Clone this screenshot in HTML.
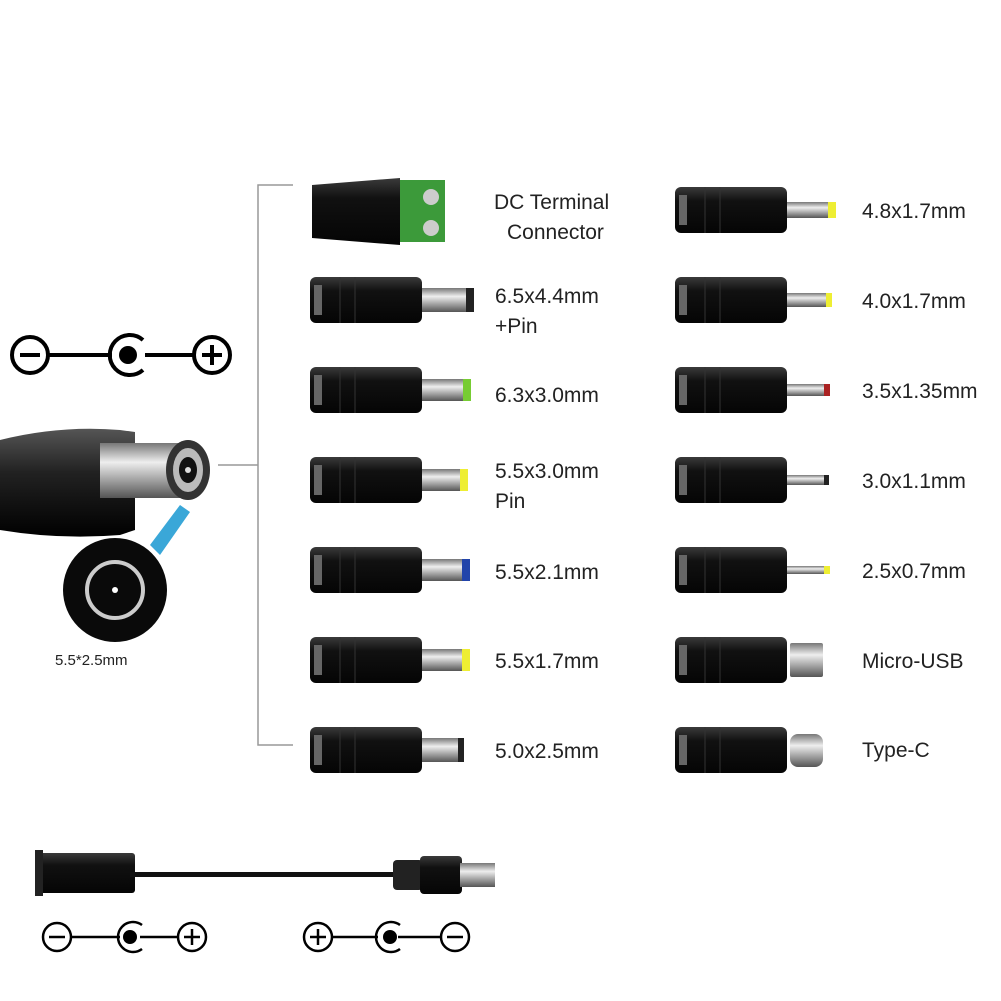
<!DOCTYPE html>
<html><head><style>body{margin:0;background:#fff}svg{display:block}text{font-family:"Liberation Sans",sans-serif;fill:#222}</style></head>
<body>
<svg width="1001" height="1001" viewBox="0 0 1001 1001" xmlns="http://www.w3.org/2000/svg">
<defs>
<linearGradient id="body" x1="0" y1="0" x2="0" y2="1"><stop offset="0" stop-color="#3a3a3a"/><stop offset="0.3" stop-color="#111"/><stop offset="1" stop-color="#050505"/></linearGradient>
<linearGradient id="metal" x1="0" y1="0" x2="0" y2="1"><stop offset="0" stop-color="#777"/><stop offset="0.35" stop-color="#eee"/><stop offset="1" stop-color="#555"/></linearGradient>
<linearGradient id="cab" x1="0" y1="0" x2="0" y2="1"><stop offset="0" stop-color="#555"/><stop offset="0.4" stop-color="#222"/><stop offset="1" stop-color="#000"/></linearGradient>
<g id="plug"><rect x="0" y="-23" width="112" height="46" rx="6" fill="url(#body)"/><rect x="4" y="-15" width="8" height="30" fill="#666"/><line x1="30" y1="-23" x2="30" y2="23" stroke="#333"/><line x1="45" y1="-23" x2="45" y2="23" stroke="#333"/></g>
</defs>
<!-- bracket -->
<path d="M293 185H258V745H293M218 465H258" fill="none" stroke="#999" stroke-width="1.5"/>
<!-- top polarity -->
<g stroke="#000" stroke-width="4" fill="none"><circle cx="30" cy="355" r="18"/><line x1="20" y1="355" x2="40" y2="355"/><line x1="48" y1="355" x2="112" y2="355"/><path d="M143 340A20 20 0 1 0 143 370"/><line x1="145" y1="355" x2="195" y2="355"/><circle cx="212" cy="355" r="18"/><line x1="202" y1="355" x2="222" y2="355"/><line x1="212" y1="345" x2="212" y2="365"/></g>
<circle cx="128" cy="355" r="9" fill="#000"/>
<!-- big connector -->
<path d="M0 440Q60 425 120 430L135 432V530L120 535Q60 540 0 530Z" fill="url(#cab)"/>
<rect x="100" y="443" width="85" height="55" fill="url(#metal)"/>
<ellipse cx="188" cy="470" rx="22" ry="30" fill="#333"/><ellipse cx="188" cy="470" rx="15" ry="22" fill="#bbb"/><ellipse cx="188" cy="470" rx="9" ry="13" fill="#111"/><circle cx="188" cy="470" r="3" fill="#ddd"/>
<polygon points="150,545 180,505 190,512 160,555" fill="#3aa7d8"/>
<circle cx="115" cy="590" r="52" fill="#0a0a0a"/><circle cx="115" cy="590" r="28" fill="none" stroke="#ccc" stroke-width="4"/><circle cx="115" cy="590" r="3" fill="#fff"/>
<text x="55" y="665" font-size="15">5.5*2.5mm</text>
<!-- DC terminal -->
<path d="M312 185L400 178V245L312 238Z" fill="url(#body)"/>
<rect x="400" y="180" width="45" height="62" fill="#3c9a3a"/><circle cx="431" cy="197" r="8" fill="#ccc"/><circle cx="431" cy="228" r="8" fill="#ccc"/>
<!-- left column plugs -->
<g>
<use href="#plug" x="310" y="300"/><rect x="422" y="288" width="48" height="24" fill="url(#metal)"/><rect x="466" y="288" width="8" height="24" fill="#222"/>
<use href="#plug" x="310" y="390"/><rect x="422" y="379" width="43" height="22" fill="url(#metal)"/><rect x="463" y="379" width="8" height="22" fill="#7c3"/>
<use href="#plug" x="310" y="480"/><rect x="422" y="469" width="40" height="22" fill="url(#metal)"/><rect x="460" y="469" width="8" height="22" fill="#ee3"/>
<use href="#plug" x="310" y="570"/><rect x="422" y="559" width="42" height="22" fill="url(#metal)"/><rect x="462" y="559" width="8" height="22" fill="#24a"/>
<use href="#plug" x="310" y="660"/><rect x="422" y="649" width="42" height="22" fill="url(#metal)"/><rect x="462" y="649" width="8" height="22" fill="#ee3"/>
<use href="#plug" x="310" y="750"/><rect x="422" y="738" width="38" height="24" fill="url(#metal)"/><rect x="458" y="738" width="6" height="24" fill="#222"/>
</g>
<!-- right column -->
<g>
<use href="#plug" x="675" y="210"/><rect x="787" y="202" width="42" height="16" fill="url(#metal)"/><rect x="828" y="202" width="8" height="16" fill="#ee3"/>
<use href="#plug" x="675" y="300"/><rect x="787" y="293" width="40" height="14" fill="url(#metal)"/><rect x="826" y="293" width="6" height="14" fill="#ee3"/>
<use href="#plug" x="675" y="390"/><rect x="787" y="384" width="38" height="12" fill="url(#metal)"/><rect x="824" y="384" width="6" height="12" fill="#a22"/>
<use href="#plug" x="675" y="480"/><rect x="787" y="475" width="38" height="10" fill="url(#metal)"/><rect x="824" y="475" width="5" height="10" fill="#222"/>
<use href="#plug" x="675" y="570"/><rect x="787" y="566" width="38" height="8" fill="url(#metal)"/><rect x="824" y="566" width="6" height="8" fill="#ee3"/>
<use href="#plug" x="675" y="660"/><rect x="790" y="643" width="33" height="34" rx="2" fill="url(#metal)"/>
<use href="#plug" x="675" y="750"/><rect x="790" y="734" width="33" height="33" rx="8" fill="url(#metal)"/>
</g>
<!-- labels -->
<g font-size="21">
<text x="494" y="209">DC Terminal</text><text x="507" y="239">Connector</text>
<text x="495" y="303">6.5x4.4mm</text><text x="495" y="333">+Pin</text>
<text x="495" y="402">6.3x3.0mm</text>
<text x="495" y="478">5.5x3.0mm</text><text x="495" y="508">Pin</text>
<text x="495" y="579">5.5x2.1mm</text>
<text x="495" y="668">5.5x1.7mm</text>
<text x="495" y="758">5.0x2.5mm</text>
<text x="862" y="218">4.8x1.7mm</text>
<text x="862" y="308">4.0x1.7mm</text>
<text x="862" y="398">3.5x1.35mm</text>
<text x="862" y="488">3.0x1.1mm</text>
<text x="862" y="578">2.5x0.7mm</text>
<text x="862" y="668">Micro-USB</text>
<text x="862" y="757">Type-C</text>
</g>
<!-- cable -->
<rect x="35" y="853" width="100" height="40" rx="3" fill="url(#body)"/><rect x="35" y="850" width="8" height="46" fill="#222"/>
<rect x="130" y="872" width="270" height="5" fill="#111"/>
<rect x="393" y="860" width="30" height="30" rx="4" fill="#222"/>
<rect x="420" y="856" width="42" height="38" rx="4" fill="url(#body)"/>
<rect x="460" y="863" width="35" height="24" fill="url(#metal)"/>
<!-- bottom polarity -->
<g stroke="#000" stroke-width="2.5" fill="none">
<circle cx="57" cy="937" r="14"/><line x1="49" y1="937" x2="65" y2="937"/><line x1="71" y1="937" x2="120" y2="937"/><path d="M142 925A15 15 0 1 0 142 949"/><line x1="140" y1="937" x2="178" y2="937"/><circle cx="192" cy="937" r="14"/><line x1="184" y1="937" x2="200" y2="937"/><line x1="192" y1="929" x2="192" y2="945"/>
<circle cx="318" cy="937" r="14"/><line x1="310" y1="937" x2="326" y2="937"/><line x1="318" y1="929" x2="318" y2="945"/><line x1="332" y1="937" x2="378" y2="937"/><path d="M400 925A15 15 0 1 0 400 949"/><line x1="398" y1="937" x2="441" y2="937"/><circle cx="455" cy="937" r="14"/><line x1="447" y1="937" x2="463" y2="937"/>
</g>
<circle cx="130" cy="937" r="7" fill="#000"/><circle cx="390" cy="937" r="7" fill="#000"/>
</svg>
</body></html>
